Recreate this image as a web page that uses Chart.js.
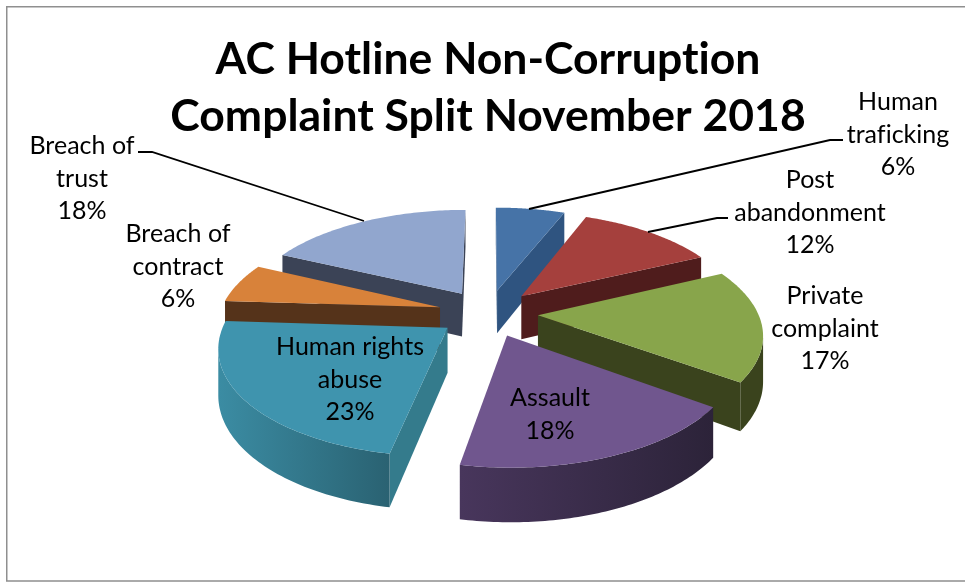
<!DOCTYPE html>
<html><head><meta charset="utf-8">
<style>html,body{margin:0;padding:0;background:#fff}canvas{display:block}</style>
<script src="https://cdn.jsdelivr.net/npm/chart.js@4/dist/chart.umd.min.js"></script>
</head><body><canvas id="c" width="965" height="582"></canvas>
<script>
const categories = ["Human trafficking","Post abandonment","Private complaint","Assault","Human rights abuse","Breach of contract","Breach of trust"];
const labelLines = [["Human","traficking"],["Post","abandonment"],["Private","complaint"],["Assault"],["Human rights","abuse"],["Breach of","contract"],["Breach of","trust"]];
const shares = [6,12,17,18,23,6,18];
const titleLines = ["AC Hotline Non-Corruption","Complaint Split November 2018"];
const topColors = ["#4673A7","#A5403D","#88A54B","#70568E","#3F94AE","#D8823A","#91A6CE"];
const edgeColors = ["#2F5480","#4F1C1C","#3A431D","#48365C","#347B8C","#55331A","#3B4356"];
const wallStart = ["#2F5480","#4F1C1C","#3A431D","#48365C","#3B8CA3","#55331A","#3B4356"];
const wallEnd = ["#2F5480","#4F1C1C","#3A431D","#2C2339","#2A6272","#55331A","#3B4356"];
const labelAnchors = [[898,102],[810,180],[825,296],[550,398],[350,347],[178,234],[82,146]];
const leaderPaths = [[[529,209],[830,140],[843,140]],[[648,232],[717,218],[728,218]],[[138,152],[152,152],[364,221]]];
const TILT = 0.468, PERSP = 0.16, DEPTH = 44, LINE = 32.5;

const pie3d = {
  id:'pie3d',
  beforeDraw(chart){
    const c=chart.ctx;
    c.letterSpacing='0.01px';
    c.save();
    c.fillStyle='#fff'; c.fillRect(0,0,965,582);
    c.strokeStyle='#8f8f8f'; c.lineWidth=1.5;
    c.beginPath(); c.moveTo(970,6.75); c.lineTo(6.75,6.75); c.lineTo(6.75,581); c.lineTo(970,581); c.stroke();
    c.restore();
  },
  beforeDatasetDraw(chart,args){
    const c=chart.ctx, arcs=chart.getDatasetMeta(args.index).data;
    const slices=arcs.map((arc,i)=>{
      const a0=arc.startAngle+Math.PI/2,a1=arc.endAngle+Math.PI/2,m=(a0+a1)/2;
      const o=arc.options.offset/arc.outerRadius;
      return {i,arc,a0,a1,m,ou:o*Math.sin(m),ov:-o*Math.cos(m)};
    });
    const proj=(s,r,a,drop)=>{
      const u=s.ou+r*Math.sin(a), v=s.ov-r*Math.cos(a), f=1/(1-PERSP*v), R=s.arc.outerRadius;
      return [s.arc.x+R*u*f, s.arc.y+(R*TILT*v+drop)*f];
    };
    const poly=pts=>{c.beginPath();pts.forEach((p,j)=>j?c.lineTo(p[0],p[1]):c.moveTo(p[0],p[1]));c.closePath();};
    const cross=(a,b,p)=>(b[0]-a[0])*(p[1]-a[1])-(b[1]-a[1])*(p[0]-a[0]);
    const N=72;
    slices.slice().sort((x,y)=>(-Math.cos(x.m))-(-Math.cos(y.m))).forEach(s=>{
      const tip=proj(s,0,0,0), midPt=proj(s,1,s.m,0);
      [s.a0,s.a1].forEach(a=>{
        const out=proj(s,1,a,0), down=[out[0],out[1]+10];
        if(cross(tip,out,down)*cross(tip,out,midPt)<0){
          poly([tip,out,proj(s,1,a,DEPTH),proj(s,0,0,DEPTH)]);
          c.fillStyle=edgeColors[s.i]; c.fill();
        }
      });
      const vis=[];
      for(let j=0;j<=N;j++){
        const a=s.a0+(s.a1-s.a0)*j/N, p=proj(s,1,a,0), q=proj(s,1,a+0.002,0);
        if(cross(p,q,[p[0],p[1]+10])*cross(p,q,tip)<0) vis.push(a);
      }
      if(vis.length>1){
        const t=vis.map(a=>proj(s,1,a,0)), b=vis.map(a=>proj(s,1,a,DEPTH)).reverse(), pts=t.concat(b);
        const xs=pts.map(p=>p[0]), g=c.createLinearGradient(Math.max(...xs),0,Math.min(...xs),0);
        const clockwiseRight=t[0][0]>t[t.length-1][0];
        g.addColorStop(0,clockwiseRight?wallEnd[s.i]:wallStart[s.i]);
        g.addColorStop(1,clockwiseRight?wallStart[s.i]:wallEnd[s.i]);
        poly(pts); c.fillStyle=g; c.fill();
      }
      const top=[tip];
      for(let j=0;j<=N;j++) top.push(proj(s,1,s.a0+(s.a1-s.a0)*j/N,0));
      poly(top); c.fillStyle=s.arc.options.backgroundColor; c.fill();
    });
    return false;
  },
  afterDraw(chart){
    const c=chart.ctx; c.save();
    c.strokeStyle='#000'; c.lineWidth=1.8;
    leaderPaths.forEach(p=>{c.beginPath();p.forEach((q,j)=>j?c.lineTo(q[0],q[1]):c.moveTo(q[0],q[1]));c.stroke();});
    c.fillStyle='#000'; c.font='25px Lato'; c.textAlign='center'; c.textBaseline='middle';
    labelLines.forEach((lines,i)=>{
      lines.concat([shares[i]+'%']).forEach((t,j)=>c.fillText(t,labelAnchors[i][0],labelAnchors[i][1]+j*LINE));
    });
    c.restore();
  }
};

new Chart(document.getElementById('c'),{
  type:'pie',
  data:{labels:categories,datasets:[{data:shares,backgroundColor:topColors,borderWidth:0,offset:50}]},
  options:{
    responsive:false,animation:false,radius:220,
    layout:{padding:{left:11,right:0,top:31,bottom:101}},
    events:[],
    plugins:{
      legend:{display:false},tooltip:{enabled:false},
      title:{display:true,text:titleLines,color:'#000',align:'center',
        font:{family:'Lato',size:44.5,weight:'bold',lineHeight:1.28},padding:{top:0,bottom:0}}
    }
  },
  plugins:[pie3d]
});
</script></body></html>
